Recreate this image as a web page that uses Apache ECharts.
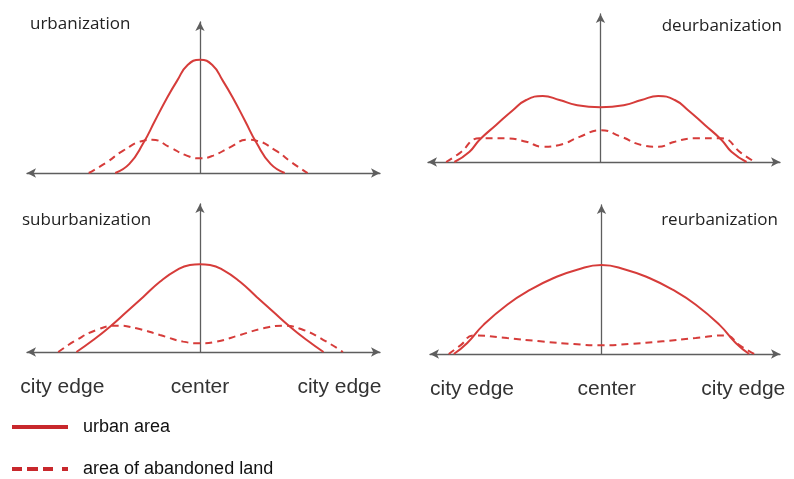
<!DOCTYPE html>
<html>
<head>
<meta charset="utf-8">
<script src="https://cdn.jsdelivr.net/npm/echarts@6/dist/echarts.min.js"></script>
<style>
  html, body { margin: 0; padding: 0; background: #fff; }
  #chart { width: 794px; height: 479px; }
</style>
</head>
<body>
<div id="chart"></div>
<script>
// panel titles, in order: top-left, top-right, bottom-left, bottom-right
const panelTitles = ['urbanization', 'deurbanization', 'suburbanization', 'reurbanization'];
const seriesNames = ['urban area', 'area of abandoned land'];
const edgeLabels = ['city edge', 'center', 'city edge'];
// where the labels sit along the x axis (distance from center)
const edgeTicksLeft = [-78, 0, 79];
const edgeTicksRight = [-74, 3, 81];

// [distance from center, amount]
const urbanSolid = [[-48, 0], [-40, 6], [-32, 20], [-25.5, 34.6], [-19, 49], [-13, 61], [-7, 71.5], [0, 75],
  [7, 71.5], [13, 61], [19, 49], [25.5, 34.6], [32, 20], [40, 6], [48, 0]];
const urbanDashed = [[-63, 0], [-53, 7], [-43.5, 14.8], [-32, 21.4], [-27, 22], [-17, 17], [-7.5, 11.5], [0, 9.7],
  [7.5, 11.5], [17, 17], [27, 22], [32, 21.4], [43, 14.8], [52, 7], [61, 0]];
const deurbSolid = [[-83, 0], [-74.4, 7], [-68.8, 14.9], [-59.3, 25], [-49.8, 35], [-42.2, 41.9], [-32.8, 44.6], [-23.3, 41.9], [-13.8, 38.5], [0, 37],
  [13.8, 38.5], [23.3, 41.9], [32.8, 44.6], [42.2, 41.9], [49.8, 35], [59.3, 25], [68.8, 14.9], [74.4, 7], [83, 0]];
const deurbDashed = [[-87.7, 0], [-80, 6], [-68.8, 16], [-53.6, 16], [-42.2, 13.7], [-32.8, 10.3], [-23.3, 11.5], [-11.9, 17], [0, 21.5],
  [11.9, 17], [23.3, 11.5], [32.8, 10.3], [42.2, 13.7], [53.6, 16], [68.8, 16], [80, 6], [87.7, 0]];
const suburbSolid = [[-70, 0], [-60.5, 8.1], [-51, 17.1], [-41.5, 27.2], [-32, 37.4], [-22.7, 47.5], [-13.2, 55.4], [-5.7, 58.8], [0, 59.3],
  [5.7, 58.8], [13.2, 55.4], [22.7, 47.5], [32, 37.4], [41.5, 27.2], [51, 17.1], [60.5, 8.1], [70, 0]];
const suburbDashed = [[-80.3, 0], [-70, 8.1], [-58.6, 14.9], [-47.2, 17.8], [-36, 16], [-22.7, 11.5], [-9.5, 7], [0, 5.9],
  [9.5, 7], [22.7, 11.5], [36, 16], [47.2, 17.8], [58.6, 14.9], [70, 8.1], [81, 0]];
const reurbSolid = [[-84.4, 0], [-76.7, 7.4], [-67.3, 19.7], [-53.9, 33.1], [-40.6, 43.2], [-27.3, 51], [-13.9, 56.6], [0, 59.7],
  [13.9, 56.6], [27.3, 51], [40.6, 43.2], [53.9, 33.1], [67.3, 19.7], [76.7, 7.4], [84.4, 0]];
const reurbDashed = [[-87.3, 0], [-80.6, 5.8], [-73, 12.5], [-53.9, 10.7], [-34.9, 8.5], [-15.8, 6.7], [0, 5.8],
  [15.8, 6.7], [34.9, 8.5], [53.9, 10.7], [71, 12.5], [79, 5.8], [87.3, 0]];

const solidData = [urbanSolid, deurbSolid, suburbSolid, reurbSolid];
const dashedData = [urbanDashed, deurbDashed, suburbDashed, reurbDashed];

const red = '#d63c3a';
const legendRed = '#c8282c';
const axisColor = '#5e5e5e';

const grids = [
  { left: 27, top: 22, width: 353, height: 151 },
  { left: 428, top: 14, width: 352, height: 148 },
  { left: 27, top: 204, width: 353, height: 148 },
  { left: 430, top: 205, width: 350, height: 149 },
];

const titlePos = [
  { left: 30, top: 16 },
  { right: 12, top: 18 },
  { left: 22, top: 212 },
  { right: 16, top: 212 },
];

const chart = echarts.init(document.getElementById('chart'), null, { renderer: 'canvas' });

const xAxes = grids.map((g, i) => ({
  type: 'value',
  gridIndex: i,
  min: -98,
  max: 102,
  splitLine: { show: false },
  axisTick: { show: false },
  axisLine: {
    show: true,
    symbol: ['arrow', 'arrow'],
    symbolSize: [7, 9],
    lineStyle: { color: axisColor, width: 1.3 },
  },
  axisLabel: i < 2 ? { show: false } : {
    show: true,
    customValues: i === 2 ? edgeTicksLeft : edgeTicksRight,
    formatter: (v) => {
      const ticks = i === 2 ? edgeTicksLeft : edgeTicksRight;
      return edgeLabels[ticks.indexOf(v)] || '';
    },
    margin: 25,
    color: '#333',
    fontSize: 21,
    fontFamily: 'Liberation Sans, Arial, sans-serif',
  },
}));

const yAxes = grids.map((g, i) => ({
  type: 'value',
  gridIndex: i,
  min: 0,
  max: 100,
  splitLine: { show: false },
  axisTick: { show: false },
  axisLabel: { show: false },
  axisLine: {
    show: true,
    onZero: true,
    symbol: ['none', 'arrow'],
    symbolSize: [7, 9],
    lineStyle: { color: axisColor, width: 1.3 },
  },
}));

const series = [];
for (let i = 0; i < 4; i++) {
  series.push({
    name: seriesNames[0],
    type: 'line',
    xAxisIndex: i,
    yAxisIndex: i,
    data: solidData[i],
    smooth: 0.5,
    symbol: 'none',
    silent: true,
    lineStyle: { color: red, width: 2 },
    itemStyle: { color: red },
  });
  series.push({
    name: seriesNames[1],
    type: 'line',
    xAxisIndex: i,
    yAxisIndex: i,
    data: dashedData[i],
    smooth: 0.5,
    symbol: 'none',
    silent: true,
    lineStyle: { color: red, width: 2, type: [7, 5] },
    itemStyle: { color: red },
  });
}

const legendIcons = [
  'path://M0,0H56V4H0Z',
  'path://M0,0H10V4H0Z M15,0H26V4H15Z M31,0H41V4H31Z M50,0H56V4H50Z',
];

const legendText = {
  fontFamily: 'Liberation Sans, Arial, sans-serif',
  fontSize: 18,
  color: '#111',
  padding: [0, 0, 0, 10],
};

chart.setOption({
  animation: false,
  backgroundColor: '#fff',
  title: panelTitles.map((t, i) => Object.assign({
    text: t,
    padding: 0,
    textStyle: {
      fontFamily: 'Open Sans, sans-serif',
      fontSize: 17,
      fontWeight: 'normal',
      color: '#222',
    },
  }, titlePos[i])),
  legend: seriesNames.map((name, i) => ({
    left: 12,
    top: i === 0 ? 418 : 460,
    padding: 0,
    itemWidth: 56,
    itemHeight: 4,
    selectedMode: false,
    icon: legendIcons[i],
    itemStyle: { color: legendRed },
    data: [name],
    textStyle: legendText,
  })),
  grid: grids,
  xAxis: xAxes,
  yAxis: yAxes,
  series: series,
});
</script>
</body>
</html>
